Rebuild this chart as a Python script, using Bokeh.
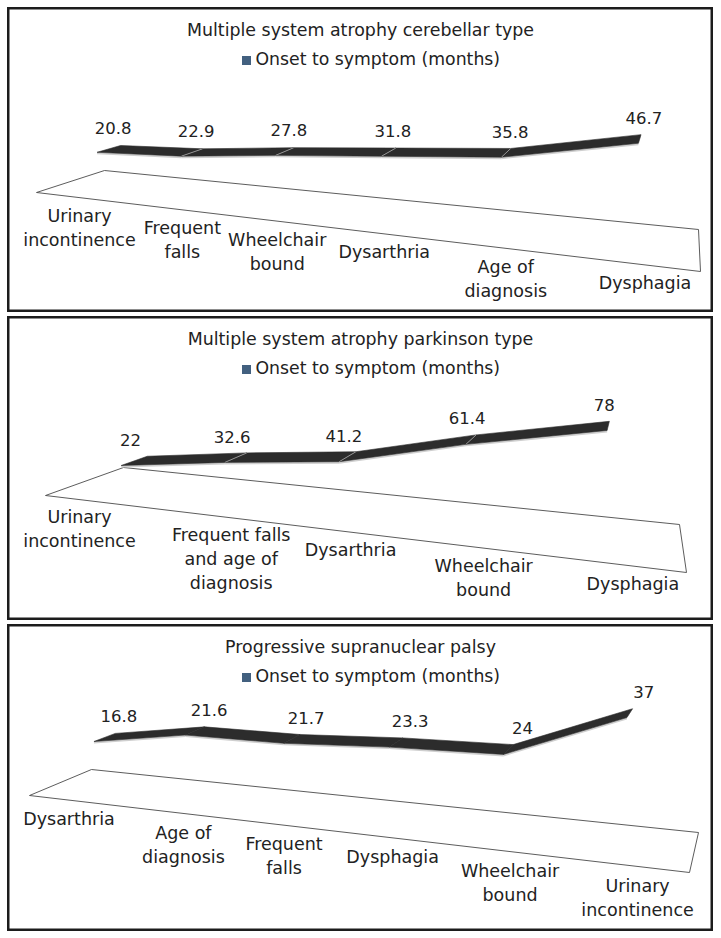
import numpy as np
from bokeh.plotting import figure
from bokeh.layouts import column
from bokeh.models import Range1d
from bokeh.core.properties import value
from bokeh.embed import file_html
from bokeh.resources import INLINE

# ---------------- data ----------------
legend_label = "Onset to symptom (months)"

title_1 = "Multiple system atrophy cerebellar type"
categories_1 = ["Urinary\nincontinence", "Frequent\nfalls", "Wheelchair\nbound",
                "Dysarthria", "Age of\ndiagnosis", "Dysphagia"]
values_1 = [20.8, 22.9, 27.8, 31.8, 35.8, 46.7]

title_2 = "Multiple system atrophy parkinson type"
categories_2 = ["Urinary\nincontinence", "Frequent falls\nand age of\ndiagnosis",
                "Dysarthria", "Wheelchair\nbound", "Dysphagia"]
values_2 = [22, 32.6, 41.2, 61.4, 78]

title_3 = "Progressive supranuclear palsy"
categories_3 = ["Dysarthria", "Age of\ndiagnosis", "Frequent\nfalls", "Dysphagia",
                "Wheelchair\nbound", "Urinary\nincontinence"]
values_3 = [16.8, 21.6, 21.7, 23.3, 24, 37]

# ---------------- style / layout ----------------
FONT = "DejaVu Sans"
TEXT_COLOR = "#222222"
RIBBON_COLOR = "#2c2c2c"
LEGEND_COLOR = "#42607f"
W = 706
ZF, ZB = 0.32, 0.68   # depth band of the ribbon (fraction of floor depth)
LABEL_SIZE = 17.5


def make_projection(P00, P10, P11, P01):
    """Perspective map of the chart floor (t along categories, z in depth)."""
    x0, y0 = P00; x1, y1 = P10; x2, y2 = P11; x3, y3 = P01
    dx1, dx2, dx3 = x1 - x2, x3 - x2, x0 - x1 + x2 - x3
    dy1, dy2, dy3 = y1 - y2, y3 - y2, y0 - y1 + y2 - y3
    den = dx1 * dy2 - dy1 * dx2
    g = (dx3 * dy2 - dy3 * dx2) / den
    h = (dx1 * dy3 - dy1 * dx3) / den
    a, b, c = x1 - x0 + g * x1, x3 - x0 + h * x3, x0
    d, e, f = y1 - y0 + g * y1, y3 - y0 + h * y3, y0

    def proj(t, z, H=0.0):
        t = np.asarray(t, float); z = np.asarray(z, float); H = np.asarray(H, float)
        w = g * t + h * z + 1.0
        return (a * t + b * z + c) / w, (d * t + e * z + f - H) / w
    return proj


def make_panel(title, cats, vals, floor, k, v0, height, label_dx, value_dx,
               t_span=(0.0, 1.0), joints=True):
    p = figure(width=W, height=height, x_range=Range1d(0, W), y_range=Range1d(height, 0),
               output_backend="svg", toolbar_location=None, min_border=0)
    p.axis.visible = False
    p.grid.visible = False
    p.outline_line_color = "#1c1c1c"
    p.outline_line_width = 4
    p.background_fill_color = "white"
    p.border_fill_color = "white"

    proj = make_projection(*floor)
    n = len(cats)
    t = (np.arange(n) + 0.5) / n
    tr = t_span[0] + t_span[1] * t
    H = k * (np.asarray(vals, float) - v0)

    # floor
    fx, fy = proj([0, 1, 1, 0], [0, 0, 1, 1])
    p.patch(list(fx), list(fy), fill_color="white", line_color="#4a4a4a", line_width=0.9)

    # ribbon
    Fx, Fy = proj(tr, np.full(n, ZF), H)
    Bx, By = proj(tr, np.full(n, ZB), H)
    sx, sy = [], []
    for i in range(n - 1):
        sx.append([Fx[i], Fx[i + 1], Fx[i + 1], Fx[i]])
        sy.append([Fy[i], Fy[i + 1], Fy[i + 1] + 2.0, Fy[i] + 2.0])
    p.patches(sx, sy, fill_color="#cfcfcf", line_color=None)
    xs, ys = [], []
    for i in range(n - 1):
        xs.append([Fx[i], Fx[i + 1], Bx[i + 1], Bx[i]])
        ys.append([Fy[i], Fy[i + 1], By[i + 1], By[i]])
    p.patches(xs, ys, fill_color=RIBBON_COLOR, line_color=RIBBON_COLOR, line_width=0.6)
    if joints:
        p.segment(Fx[1:-1], Fy[1:-1], Bx[1:-1], By[1:-1], line_color="#a0a0a0", line_width=0.9)

    # data labels
    Mx, My = proj(tr, np.full(n, 0.5 * (ZF + ZB)), H)
    p.text(Mx + value_dx, My - 21, text=[f"{v:g}" for v in vals], text_font=value(FONT),
           text_font_size="16.5px", text_align="center", text_baseline="middle",
           text_color=TEXT_COLOR)

    # category labels along the front edge of the floor
    Lx, Ly = proj(t, np.zeros(n))
    slope = (Ly[1] - Ly[0]) / (Lx[1] - Lx[0])
    Lx = Lx + label_dx
    half_w = max(len(s) for s in cats[0].split("\n")) * 0.6 * LABEL_SIZE / 2
    new_x0 = min(Lx[0], 9 + half_w)
    Ly[0] += (new_x0 - Lx[0]) * slope
    Lx[0] = new_x0
    p.text(Lx, Ly + 11, text=cats, text_font=value(FONT), text_font_size=f"{LABEL_SIZE}px",
           text_align="center", text_baseline="top", text_line_height=1.2,
           text_color=TEXT_COLOR)

    # title and legend
    p.text([353], [22], text=[title], text_font=value(FONT), text_font_size="17.4px",
           text_align="center", text_baseline="middle", text_color=TEXT_COLOR)
    p.rect([239], [53], width=9, height=9, fill_color=LEGEND_COLOR, line_color=None)
    p.text([248], [51], text=[legend_label], text_font=value(FONT), text_font_size="17.3px",
           text_align="left", text_baseline="middle", text_color=TEXT_COLOR)
    return p


p1 = make_panel(title_1, categories_1, values_1,
                [(29, 185), (693, 264), (691, 222), (97, 163)], 1.633, -2.0, 305, 22, 4,
                t_span=(-0.004, 1.02))
p2 = make_panel(title_2, categories_2, values_2,
                [(38, 179), (679, 256), (672, 208), (116, 151)], 1.257, 1.1, 304, 28, -4)
p3 = make_panel(title_3, categories_3, values_3,
                [(22, 171), (682, 248), (691, 208), (84, 145)], 3.05, 0.2, 307, 16, 14,
                joints=False)

layout = column(p1, p2, p3, spacing=4, margin=(7, 0, 0, 7))
open("out.html", "w").write(file_html(layout, INLINE))
